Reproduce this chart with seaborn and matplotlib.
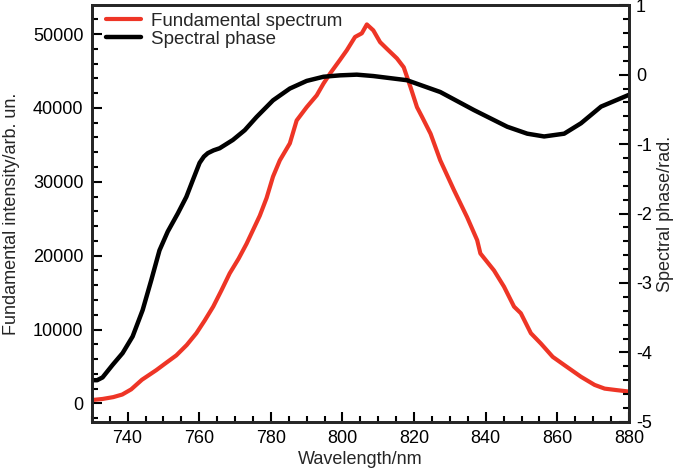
import numpy as np
import pandas as pd
import matplotlib
matplotlib.use("Agg")
import matplotlib.pyplot as plt
import seaborn as sns
from matplotlib.ticker import MultipleLocator

# Espectro fundamental (eje izquierdo)
wl_spec = [730, 733, 736, 738.5, 741, 744, 748, 750.5, 753.6, 756.5, 759.2, 761.5, 763.9, 766.2,
           768.5, 771, 773.2, 776.9, 778.8, 780.6, 782.5, 785.3, 787.2, 790, 792.8, 794.7,
           796.6, 799.3, 801.2, 803.5, 805.4, 806.8, 808.6, 810.5, 812.4, 815.2, 817.1, 819,
           820.8, 822.2, 824.6, 827.3, 831.1, 834.8, 837.6, 838.5, 842.3, 845.1, 847.9, 849.8,
           852.6, 855.4, 858.7, 861.9, 866.6, 870.4, 873.2, 876.5, 880]
intensity = [450, 600, 850, 1200, 1900, 3200, 4500, 5400, 6500, 7900, 9500, 11200, 13100, 15300,
             17600, 19600, 21600, 25400, 27800, 30700, 32900, 35200, 38300, 40100, 41700, 43300,
             44700, 46500, 47800, 49600, 50100, 51300, 50500, 48900, 48000, 46700, 45500, 42800,
             40100, 38800, 36500, 32900, 28900, 25200, 22100, 20300, 18000, 15800, 13100, 12200,
             9500, 8100, 6300, 5200, 3600, 2500, 2000, 1800, 1600]

# Fase espectral (eje derecho)
wl_phase = [730, 731.5, 733, 735.8, 738.6, 741.4, 744.2, 746.6, 748.9, 751.2, 754, 756.4, 758.2,
            760.1, 761.3, 762.4, 764, 765.7, 769.4, 772.7, 776, 780.6, 785.3, 790, 794.7, 799.3,
            804, 808.6, 818, 827.3, 836.7, 846, 851.6, 856.3, 861.9, 866.6, 872.2, 880]
phase = [-4.40, -4.40, -4.36, -4.18, -4.01, -3.77, -3.39, -2.96, -2.53, -2.26, -2.00, -1.76, -1.52,
         -1.27, -1.18, -1.13, -1.09, -1.06, -0.94, -0.80, -0.61, -0.37, -0.20, -0.09, -0.03, -0.01,
         0.0, -0.02, -0.08, -0.25, -0.51, -0.75, -0.85, -0.89, -0.85, -0.70, -0.46, -0.29]

df_spec = pd.DataFrame({"wl": wl_spec, "val": intensity})
df_phase = pd.DataFrame({"wl": wl_phase, "val": phase})

sns.set_style("ticks")
plt.rcParams["font.family"] = ["Liberation Sans", "DejaVu Sans"]
plt.rcParams["axes.unicode_minus"] = False

fig, ax = plt.subplots(figsize=(6.8, 4.74), dpi=100)
fig.subplots_adjust(left=0.135, right=0.925, top=0.989, bottom=0.110)
ax2 = ax.twinx()

sns.lineplot(data=df_spec, x="wl", y="val", ax=ax, color="#ee3526", linewidth=3,
             label="Fundamental spectrum", legend=False)
sns.lineplot(data=df_phase, x="wl", y="val", ax=ax2, color="black", linewidth=3.2,
             label="Spectral phase", legend=False)

ax.set_xlim(730, 880)
ax.set_ylim(-2500, 53900)
ax2.set_ylim(-5, 1)

ax.xaxis.set_major_locator(MultipleLocator(20))
ax.xaxis.set_minor_locator(MultipleLocator(5))
ax.yaxis.set_major_locator(MultipleLocator(10000))
ax.yaxis.set_minor_locator(MultipleLocator(2000))
ax2.yaxis.set_major_locator(MultipleLocator(1))
ax2.yaxis.set_minor_locator(MultipleLocator(0.2))

for a in (ax, ax2):
    a.tick_params(which="both", direction="in", labelsize=13, width=1.5, colors="black")
    a.tick_params(which="major", length=7)
    a.tick_params(which="minor", length=4)
    for s in a.spines.values():
        s.set_linewidth(2)
ax.tick_params(axis="x", pad=6)
ax.tick_params(axis="y", pad=6)
ax2.tick_params(axis="y", pad=5)

ax.set_xlabel("Wavelength/nm", fontsize=13, labelpad=3)
ax.set_ylabel("Fundamental intensity/arb. un.", fontsize=13, labelpad=9)
ax2.set_ylabel("Spectral phase/rad.", fontsize=13, labelpad=4)

h1, l1 = ax.get_legend_handles_labels()
h2, l2 = ax2.get_legend_handles_labels()
ax.legend(h1 + h2, l1 + l2, loc="upper left", frameon=False, fontsize=13.5,
          handlelength=1.9, handletextpad=0.5, labelspacing=0.05,
          borderaxespad=0.0, bbox_to_anchor=(0.012, 1.0))

plt.savefig("out.png", dpi=100)
